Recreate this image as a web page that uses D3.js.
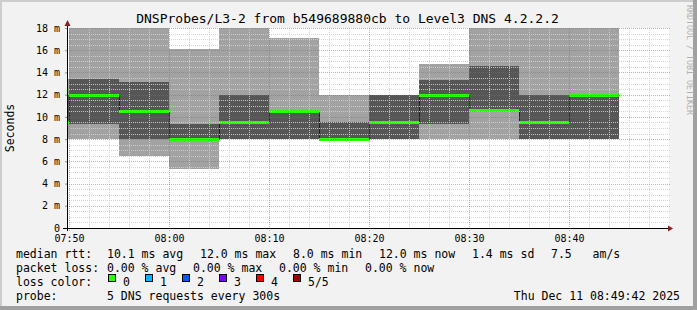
<!DOCTYPE html>
<html>
<head>
<meta charset="utf-8">
<script src="https://cdn.jsdelivr.net/npm/d3@7"></script>
<style>
  body { margin: 0; background: #f2f2f2; }
  svg { display: block; }
  text { font-family: "DejaVu Sans Mono", monospace; }
</style>
</head>
<body>
<svg width="697" height="310"></svg>
<script>
// one step every 5 minutes, 5 pings per step (sorted: min, low, median, high, max)
var stepStarts = ["07:45", "07:50", "07:55", "08:00", "08:05", "08:10", "08:15", "08:20", "08:25", "08:30", "08:35", "08:40"];
var pingMin    = [8.0, 8.0, 6.5, 5.3, 8.0, 8.0, 8.0, 8.0, 8.0, 8.0, 8.0, 8.0];
var pingLow    = [9.4, 9.4, 8.0, 8.0, 8.0, 8.0, 8.0, 8.0, 9.4, 10.6, 8.0, 8.0];
var pingMedian = [9.5, 12.0, 10.5, 8.0, 9.5, 10.5, 8.0, 9.5, 12.0, 10.6, 9.5, 12.0];
var pingHigh   = [12.0, 13.4, 13.1, 9.4, 12.0, 10.5, 9.5, 12.0, 13.3, 14.6, 12.0, 12.0];
var pingMax    = [13.4, 18.0, 18.0, 16.1, 18.0, 17.1, 12.0, 12.0, 14.8, 18.0, 18.0, 18.0];
var lossCount  = [0, 0, 0, 0, 0, 0, 0, 0, 0, 0, 0, 0];

var xTickLabels = ["07:50", "08:00", "08:10", "08:20", "08:30", "08:40"];
var yTickValues = [0, 2, 4, 6, 8, 10, 12, 14, 16, 18];

var lossLabels = ["0", "1", "2", "3", "4", "5/5"];
var lossColors = ["#26ff00", "#00b8ff", "#0059ff", "#7e00ff", "#ff0000", "#a10000"];

var rttStats  = ["10.1 ms avg", "12.0 ms max", "8.0 ms min", "12.0 ms now", "1.4 ms sd", "7.5   am/s"];
var lossStats = ["0.00 % avg", "0.00 % max", "0.00 % min", "0.00 % now"];

var title = "DNSProbes/L3-2 from b549689880cb to Level3 DNS 4.2.2.2";
var probeText = "5 DNS requests every 300s";
var stamp = "Thu Dec 11 08:49:42 2025";

var parseTime = d3.timeParse("%H:%M");
var stepMs = 5 * 60 * 1000;

var svg = d3.select("svg");
var W = 697, H = 310;
var plotL = 67, plotR = 669, plotT = 28, plotB = 228;

// canvas + 3d border
svg.append("rect").attr("width", W).attr("height", H).attr("fill", "#f2f2f2");
svg.append("rect").attr("x", 0).attr("y", 0).attr("width", W).attr("height", 2).attr("fill", "#cdcdcd");
svg.append("rect").attr("x", 0).attr("y", 0).attr("width", 2).attr("height", H).attr("fill", "#cdcdcd");
svg.append("rect").attr("x", W - 4).attr("y", 0).attr("width", 4).attr("height", H).attr("fill", "#a0a0a0");
svg.append("rect").attr("x", 0).attr("y", H - 4).attr("width", W).attr("height", 4).attr("fill", "#a0a0a0");

var x = d3.scaleTime()
    .domain([new Date(parseTime("07:49").getTime() + 48000), parseTime("08:50")])
    .range([plotL, plotR]);
var y = d3.scaleLinear().domain([0, 18]).range([plotB, plotT]);

svg.append("rect")
    .attr("x", plotL).attr("y", plotT)
    .attr("width", plotR - plotL).attr("height", plotB - plotT)
    .attr("fill", "#ffffff");

svg.append("clipPath").attr("id", "plot")
  .append("rect")
    .attr("x", plotL).attr("y", plotT - 1)
    .attr("width", plotR - plotL).attr("height", plotB - plotT + 1);

var steps = stepStarts.map(function(s, i) {
    var t = parseTime(s);
    return {
        t0: t, t1: new Date(t.getTime() + stepMs),
        p1: pingMin[i], p2: pingLow[i], p3: pingMedian[i], p4: pingHigh[i], p5: pingMax[i],
        loss: lossCount[i]
    };
});

var g = svg.append("g").attr("clip-path", "url(#plot)");

// smoke: outer range light, inner range dark
g.selectAll("rect.outer").data(steps).enter().append("rect")
    .attr("class", "outer")
    .attr("shape-rendering", "crispEdges")
    .attr("x", function(d) { return Math.round(x(d.t0)); })
    .attr("width", function(d) { return Math.round(x(d.t1)) - Math.round(x(d.t0)); })
    .attr("y", function(d) { return y(d.p5); })
    .attr("height", function(d) { return y(d.p1) - y(d.p5); })
    .attr("fill", "#a2a2a2");

g.selectAll("rect.inner").data(steps).enter().append("rect")
    .attr("class", "inner")
    .attr("shape-rendering", "crispEdges")
    .attr("x", function(d) { return Math.round(x(d.t0)); })
    .attr("width", function(d) { return Math.round(x(d.t1)) - Math.round(x(d.t0)); })
    .attr("y", function(d) { return y(d.p4); })
    .attr("height", function(d) { return y(d.p2) - y(d.p4); })
    .attr("fill", "#565656");

// grid, drawn over the smoke like rrdtool does
var minorY = d3.range(0.5, 18.01, 0.5).filter(function(v) { return v % 2 !== 0; });
var majorY = yTickValues.filter(function(v) { return v > 0; });
var minorX = d3.timeMinute.every(2).range(x.domain()[0], x.domain()[1])
    .filter(function(d) { return d.getMinutes() % 10 !== 0; });
var majorX = d3.timeMinute.every(10).range(x.domain()[0], x.domain()[1]);

var grid = svg.append("g").attr("fill", "none").attr("stroke-dasharray", "1,1");
grid.selectAll("line.my").data(minorY).enter().append("line")
    .attr("x1", plotL).attr("x2", plotR + 1)
    .attr("y1", function(d) { return Math.round(y(d)) + 0.5; })
    .attr("y2", function(d) { return Math.round(y(d)) + 0.5; })
    .attr("stroke", "#d0d0d0").attr("stroke-opacity", 0.9);
grid.selectAll("line.mx").data(minorX).enter().append("line")
    .attr("y1", plotT).attr("y2", plotB + 2)
    .attr("x1", function(d) { return Math.round(x(d)) + 0.5; })
    .attr("x2", function(d) { return Math.round(x(d)) + 0.5; })
    .attr("stroke", "#d0d0d0").attr("stroke-opacity", 0.9);
grid.selectAll("line.gy").data(majorY).enter().append("line")
    .attr("x1", plotL).attr("x2", plotR + 1)
    .attr("y1", function(d) { return Math.round(y(d)) + 0.5; })
    .attr("y2", function(d) { return Math.round(y(d)) + 0.5; })
    .attr("stroke", "rgba(225,70,70,0.5)");
grid.selectAll("line.gx").data(majorX).enter().append("line")
    .attr("y1", plotT).attr("y2", plotB + 3)
    .attr("x1", function(d) { return Math.round(x(d)) + 0.5; })
    .attr("x2", function(d) { return Math.round(x(d)) + 0.5; })
    .attr("stroke", "rgba(225,70,70,0.5)");

// median: dark step line plus loss-coloured segments
var medianPts = steps.map(function(d) { return [d.t0, d.p3]; });
medianPts.push([steps[steps.length - 1].t1, steps[steps.length - 1].p3]);
var line = d3.line()
    .x(function(d) { return Math.round(x(d[0])) + 0.5; })
    .y(function(d) { return Math.round(y(d[1])) + 0.5; })
    .curve(d3.curveStepAfter);
g.append("path").datum(medianPts)
    .attr("fill", "none").attr("stroke", "#1e1e1e").attr("stroke-width", 1)
    .attr("d", line);

g.selectAll("rect.med").data(steps).enter().append("rect")
    .attr("class", "med")
    .attr("shape-rendering", "crispEdges")
    .attr("x", function(d) { return Math.round(x(d.t0)); })
    .attr("width", function(d) { return Math.round(x(d.t1)) - Math.round(x(d.t0)); })
    .attr("y", function(d) { return Math.round(y(d.p3)) - 1; })
    .attr("height", 3)
    .attr("fill", function(d) { return lossColors[d.loss]; });

// axes
var xAxis = svg.append("g")
    .attr("transform", "translate(0," + plotB + ")")
    .call(d3.axisBottom(x)
        .tickValues(xTickLabels.map(parseTime))
        .tickFormat(d3.timeFormat("%H:%M"))
        .tickSize(0).tickPadding(7));
xAxis.select(".domain").remove();
xAxis.selectAll("text").attr("font-size", "10px").attr("fill", "#000")
    .style("font-family", "DejaVu Sans Mono");

var yAxis = svg.append("g")
    .attr("transform", "translate(" + plotL + ",0)")
    .call(d3.axisLeft(y)
        .tickValues(yTickValues)
        .tickFormat(function(d) { return d === 0 ? "0" : d + " m"; })
        .tickSizeInner(2).tickSizeOuter(0).tickPadding(5));
yAxis.select(".domain").remove();
yAxis.selectAll("line").attr("stroke", "#909090");
yAxis.selectAll("text").attr("font-size", "10px").attr("fill", "#000")
    .style("font-family", "DejaVu Sans Mono");

svg.append("line").attr("x1", 63).attr("x2", plotR).attr("y1", plotB + 0.5).attr("y2", plotB + 0.5)
    .attr("stroke", "#000");
svg.append("line").attr("x1", plotL + 0.5).attr("x2", plotL + 0.5).attr("y1", 25).attr("y2", plotB + 3)
    .attr("stroke", "#000");
svg.append("path").attr("d", "M668,225.5L673,228.5L668,231.5Z").attr("fill", "#8b1c1c");
svg.append("path").attr("d", "M64.5,26L67.5,20L70.5,26Z").attr("fill", "#8b1c1c");

// titles
svg.append("text").attr("x", 347.5).attr("y", 23).attr("text-anchor", "middle")
    .attr("font-size", "13px").attr("fill", "#000").text(title);
svg.append("text").attr("transform", "translate(14,128) rotate(-90)").attr("text-anchor", "middle")
    .attr("font-size", "11.5px").attr("fill", "#000").text("Seconds");
svg.append("text").attr("transform", "translate(686.5,5) rotate(90)")
    .attr("font-size", "8.3px").attr("fill", "#b0b0b0").text("RRDTOOL / TOBI OETIKER");

// legend
var lg = svg.append("g").attr("font-size", "11.5px").attr("fill", "#000");
var rowY = [258, 272, 286, 300];
lg.append("text").attr("x", 16).attr("y", rowY[0]).text("median rtt:");
lg.append("text").attr("x", 16).attr("y", rowY[1]).text("packet loss:");
lg.append("text").attr("x", 16).attr("y", rowY[2]).text("loss color:");
lg.append("text").attr("x", 16).attr("y", rowY[3]).text("probe:");

var rttX = [107, 200, 293, 379, 472, 551];
lg.selectAll("text.rtt").data(rttStats).enter().append("text")
    .attr("x", function(d, i) { return rttX[i]; }).attr("y", rowY[0])
    .style("white-space", "pre").text(function(d) { return d; });

var lossX = [107, 193, 279, 365];
lg.selectAll("text.loss").data(lossStats).enter().append("text")
    .attr("x", function(d, i) { return lossX[i]; }).attr("y", rowY[1])
    .text(function(d) { return d; });

var sw = lg.selectAll("g.sw").data(lossLabels).enter().append("g")
    .attr("transform", function(d, i) { return "translate(" + (108 + i * 37) + ",274)"; });
sw.append("rect").attr("x", 0.5).attr("y", 0.5).attr("width", 7).attr("height", 7)
    .attr("fill", function(d, i) { return lossColors[i]; })
    .attr("stroke", "#000").attr("stroke-width", 1);
sw.append("text").attr("x", 15).attr("y", rowY[2] - 274).text(function(d) { return d; });

lg.append("text").attr("x", 107).attr("y", rowY[3]).text(probeText);
lg.append("text").attr("x", 680).attr("y", rowY[3]).attr("text-anchor", "end").text(stamp);
</script>
</body>
</html>
